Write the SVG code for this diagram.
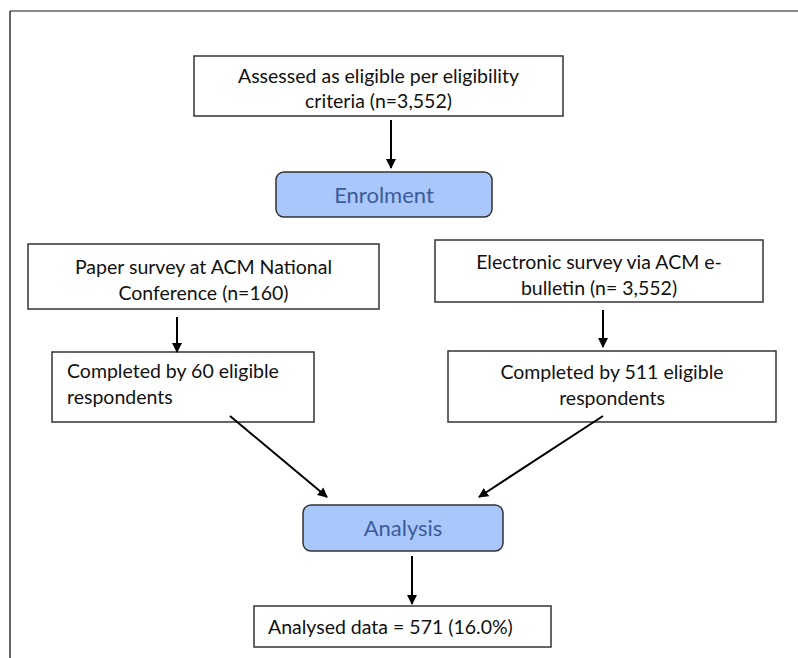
<svg xmlns="http://www.w3.org/2000/svg" width="798" height="658" viewBox="0 0 798 658">
<defs>
<marker id="ah" markerWidth="10" markerHeight="12" refX="9" refY="5" orient="auto" markerUnits="userSpaceOnUse" viewBox="0 0 10 10">
<path d="M0,0 L10,5 L0,10 z" fill="#000"/>
</marker>
<style>
.box{fill:#fff;stroke:#333;stroke-width:1.5}
.rbox{fill:#a9c7fb;stroke:#333;stroke-width:1.5}
.t{font-family:Lato,"Liberation Sans",sans-serif;font-size:19.5px;fill:#111}
.bt{font-family:Lato,"Liberation Sans",sans-serif;font-size:22px;fill:#3b5b9c}
.c{stroke:#000;stroke-width:2;fill:none;marker-end:url(#ah)}
</style>
</defs>
<rect x="0" y="0" width="798" height="658" fill="#fff"/>
<g id="frame">
<line x1="10" y1="11" x2="798" y2="11" stroke="#8a8a8a" stroke-width="2"/>
<line x1="10" y1="11" x2="10" y2="658" stroke="#333" stroke-width="1.5"/>
</g>
<g id="assessed">
<rect class="box" x="194" y="56" width="369" height="60"/>
<text class="t" text-anchor="middle" x="378.5" y="83">Assessed as eligible per eligibility</text>
<text class="t" text-anchor="middle" x="378.5" y="108">criteria (n=3,552)</text>
</g>
<g id="enrolment">
<rect class="rbox" x="276" y="172" width="216" height="45" rx="8"/>
<text class="bt" text-anchor="middle" x="384" y="203">Enrolment</text>
</g>
<g id="paper">
<rect class="box" x="28" y="244" width="351" height="65"/>
<text class="t" text-anchor="middle" x="203.5" y="274">Paper survey at ACM National</text>
<text class="t" text-anchor="middle" x="203.5" y="300">Conference (n=160)</text>
</g>
<g id="electronic">
<rect class="box" x="435" y="240" width="328" height="62"/>
<text class="t" text-anchor="middle" x="599" y="269">Electronic survey via ACM e-</text>
<text class="t" text-anchor="middle" x="599" y="295">bulletin (n= 3,552)</text>
</g>
<g id="completed60">
<rect class="box" x="52" y="352" width="262" height="70"/>
<text class="t" x="67" y="378">Completed by 60 eligible</text>
<text class="t" x="67" y="404">respondents</text>
</g>
<g id="completed511">
<rect class="box" x="448" y="351" width="328" height="71"/>
<text class="t" text-anchor="middle" x="612" y="379">Completed by 511 eligible</text>
<text class="t" text-anchor="middle" x="612" y="405">respondents</text>
</g>
<g id="analysis">
<rect class="rbox" x="303" y="505" width="200" height="46" rx="8"/>
<text class="bt" text-anchor="middle" x="403" y="536">Analysis</text>
</g>
<g id="analysed">
<rect class="box" x="254" y="606" width="297" height="41"/>
<text class="t" x="268" y="634">Analysed data = 571 (16.0%)</text>
</g>
<g id="connectors">
<line class="c" x1="391" y1="120" x2="391" y2="168"/>
<line class="c" x1="177" y1="317" x2="177" y2="352"/>
<line class="c" x1="603" y1="310" x2="603" y2="347"/>
<line class="c" x1="230" y1="416" x2="327" y2="497"/>
<line class="c" x1="603" y1="416" x2="479" y2="497"/>
<line class="c" x1="412" y1="556" x2="412" y2="604"/>
</g>
</svg>
